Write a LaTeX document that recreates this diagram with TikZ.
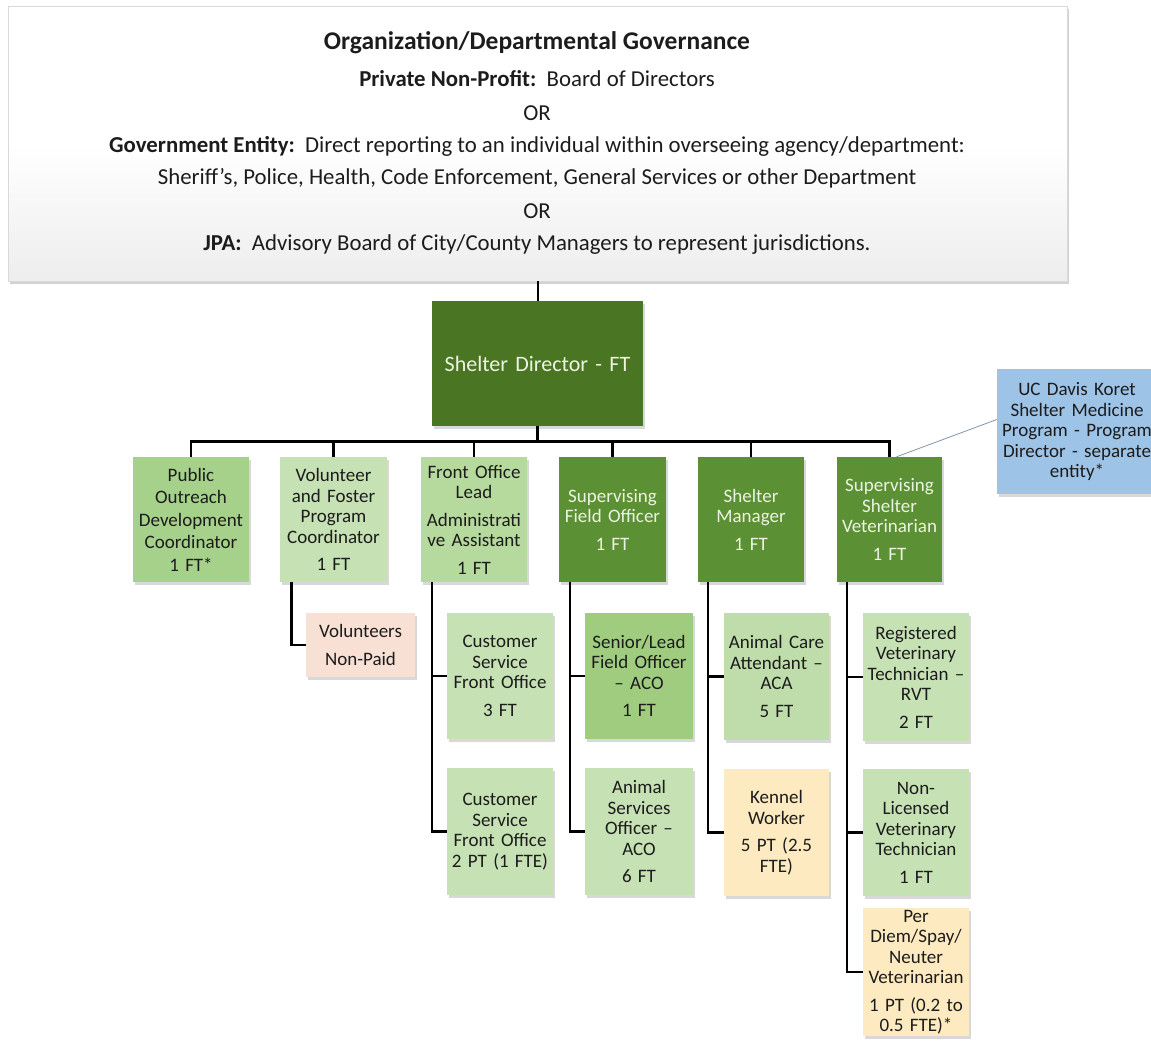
\documentclass[tikz,border=0pt]{standalone}
\usepackage{fontspec}
\setmainfont{Carlito}
\usetikzlibrary{shadows}
\definecolor{dirgreen}{RGB}{74,118,36}
\definecolor{supgreen}{RGB}{91,144,52}
\definecolor{litetext}{RGB}{236,243,226}
\definecolor{darktext}{RGB}{28,28,28}
\definecolor{pubgreen}{RGB}{166,209,138}
\definecolor{palegreen}{RGB}{198,225,180}
\definecolor{midgreen}{RGB}{182,217,158}
\definecolor{slogreen}{RGB}{160,204,128}
\definecolor{acagreen}{RGB}{190,221,170}
\definecolor{paleyellow}{RGB}{253,234,192}
\definecolor{palepink}{RGB}{249,224,212}
\definecolor{ucblue}{RGB}{157,195,230}
\definecolor{linkgray}{RGB}{130,150,170}
\begin{document}
\begin{tikzpicture}[x=1pt,y=-1pt,
  conn/.style={line width=2.6pt, line join=miter, draw=black},
  bx/.style n args={4}{rectangle, minimum width=#1pt, minimum height=#2pt, text width=#3pt,
    align=center, inner sep=0pt, fill=#4, text=darktext,
    font=\fontsize{19}{20.5}\selectfont,
    drop shadow={shadow xshift=2pt, shadow yshift=-2.5pt, opacity=0.3}},
  toptext/.style={font=\fontsize{22.8}{26}\selectfont, text=darktext, inner sep=0pt}
]
\useasboundingbox (0,0) rectangle (1151,1041);
\fill[white] (0,0) rectangle (1151,1041);

% governance box
\node[rectangle, minimum width=1059pt, minimum height=275pt, top color=white, bottom color=gray!14,
  middle color=white, draw=gray!30, line width=0.6pt,
  drop shadow={shadow xshift=2pt, shadow yshift=-3pt, opacity=0.35}] (gov) at (537.5,143.5) {};
\node[toptext, font=\fontsize{25.5}{28}\selectfont\bfseries] (t1) at (537,43) {Organization/Departmental Governance};
\node[toptext] (t2) at (537,79) {\textbf{Private Non-Profit:}\ \ Board of Directors};
\node[toptext] (t3) at (537,113) {OR};
\node[toptext] (t4) at (537,146) {\textbf{Government Entity:}\ \ Direct reporting to an individual within overseeing agency/department:};
\node[toptext] (t5) at (537,178) {Sheriff’s, Police, Health, Code Enforcement, General Services or other Department};
\node[toptext] (t6) at (537,211) {OR};
\node[toptext] (t7) at (537,245) {\textbf{JPA:}\ \ Advisory Board of City/County Managers to represent jurisdictions.};

% director
\node[bx={211}{125}{200}{dirgreen}, text=litetext, font=\fontsize{22}{26}\selectfont] (dir) at (537.5,363.5) {Shelter Director - FT};

% level 1
\node[bx={116}{125}{112}{pubgreen}, font=\fontsize{19}{22.5}\selectfont] (pub) at (191,519.5) {Public\\Outreach\\Development\\Coordinator\\1 FT*};
\node[bx={107}{125}{104}{palegreen}] (vol) at (333.5,519.5) {Volunteer\\and Foster\\Program\\Coordinator\\[7pt]1 FT};
\node[bx={106}{125}{104}{midgreen}] (fro) at (474,519.5) {Front Office\\Lead\\[7pt]Administrati\\ve Assistant\\[7pt]1 FT};
\node[bx={107}{125}{104}{supgreen}, text=litetext] (sfo) at (612.5,519.5) {Supervising\\Field Officer\\[7pt]1 FT};
\node[bx={106}{125}{104}{supgreen}, text=litetext] (smg) at (751,519.5) {Shelter\\Manager\\[7pt]1 FT};
\node[bx={105}{125}{104}{supgreen}, text=litetext] (ssv) at (889.5,519.5) {Supervising\\Shelter\\Veterinarian\\[7pt]1 FT};

% UC Davis
\node[bx={160}{125}{156}{ucblue}] (uc) at (1077,431.5) {UC Davis Koret\\Shelter Medicine\\Program - Program\\Director - separate\\entity*};

% level 2
\node[bx={109}{64}{106}{palepink}] (vols) at (360.5,645) {Volunteers\\[7pt]Non-Paid};
\node[bx={106}{126}{104}{palegreen}] (cs1) at (500,676) {Customer\\Service\\Front Office\\[7pt]3 FT};
\node[bx={106}{127}{104}{palegreen}] (cs2) at (500,831.5) {Customer\\Service\\Front Office\\2 PT (1 FTE)};
\node[bx={108}{126}{106}{slogreen}] (slo) at (639,676) {Senior/Lead\\Field Officer\\– ACO\\[7pt]1 FT};
\node[bx={108}{127}{106}{palegreen}] (aso) at (639,831.5) {Animal\\Services\\Officer –\\ACO\\[7pt]6 FT};
\node[bx={105}{127}{104}{acagreen}] (aca) at (776.5,676.5) {Animal Care\\Attendant –\\ACA\\[7pt]5 FT};
\node[bx={105}{127}{104}{paleyellow}] (kw) at (776.5,832.5) {Kennel\\Worker\\[7pt]5 PT (2.5\\FTE)};
\node[bx={106}{128}{104}{palegreen}] (rvt) at (916,677) {Registered\\Veterinary\\Technician –\\RVT\\[7pt]2 FT};
\node[bx={106}{127}{104}{palegreen}] (nlv) at (916,832.5) {Non-\\Licensed\\Veterinary\\Technician\\[7pt]1 FT};
\node[bx={106}{128}{104}{paleyellow}] (pdv) at (916,972) {Per\\Diem/Spay/\\Neuter\\Veterinarian\\[7pt]1 PT (0.2 to\\0.5 FTE)*};

% connectors
\draw[line width=2pt] (gov.south) -- (dir.north);
\draw[conn] (dir.south) -- ++(0,15.5) coordinate (bus);
\draw[conn] (bus) -| (pub.north);
\draw[conn] (bus) -| (vol.north);
\draw[conn] (bus) -| (fro.north);
\draw[conn] (bus) -| (sfo.north);
\draw[conn] (bus) -| (smg.north);
\draw[conn] (bus) -| (ssv.north);

\coordinate (vx) at ([xshift=11.5pt]vol.south west);
\coordinate (fx) at ([xshift=11pt]fro.south west);
\coordinate (sx) at ([xshift=11pt]sfo.south west);
\coordinate (mx) at ([xshift=10pt]smg.south west);
\coordinate (ex) at ([xshift=10pt]ssv.south west);
\draw[conn] (vx) |- (vols.west);
\draw[conn] (fx) |- (cs1.west);
\draw[conn] (fx) |- (cs2.west);
\draw[conn] (sx) |- (slo.west);
\draw[conn] (sx) |- (aso.west);
\draw[conn] (mx) |- (aca.west);
\draw[conn] (mx) |- (kw.west);
\draw[conn] (ex) |- (rvt.west);
\draw[conn] (ex) |- (nlv.west);
\draw[conn] (ex) |- (pdv.west);

\draw[linkgray, line width=0.8pt] ([yshift=12pt]uc.west) -- ([xshift=7pt]ssv.north);
\end{tikzpicture}
\end{document}
